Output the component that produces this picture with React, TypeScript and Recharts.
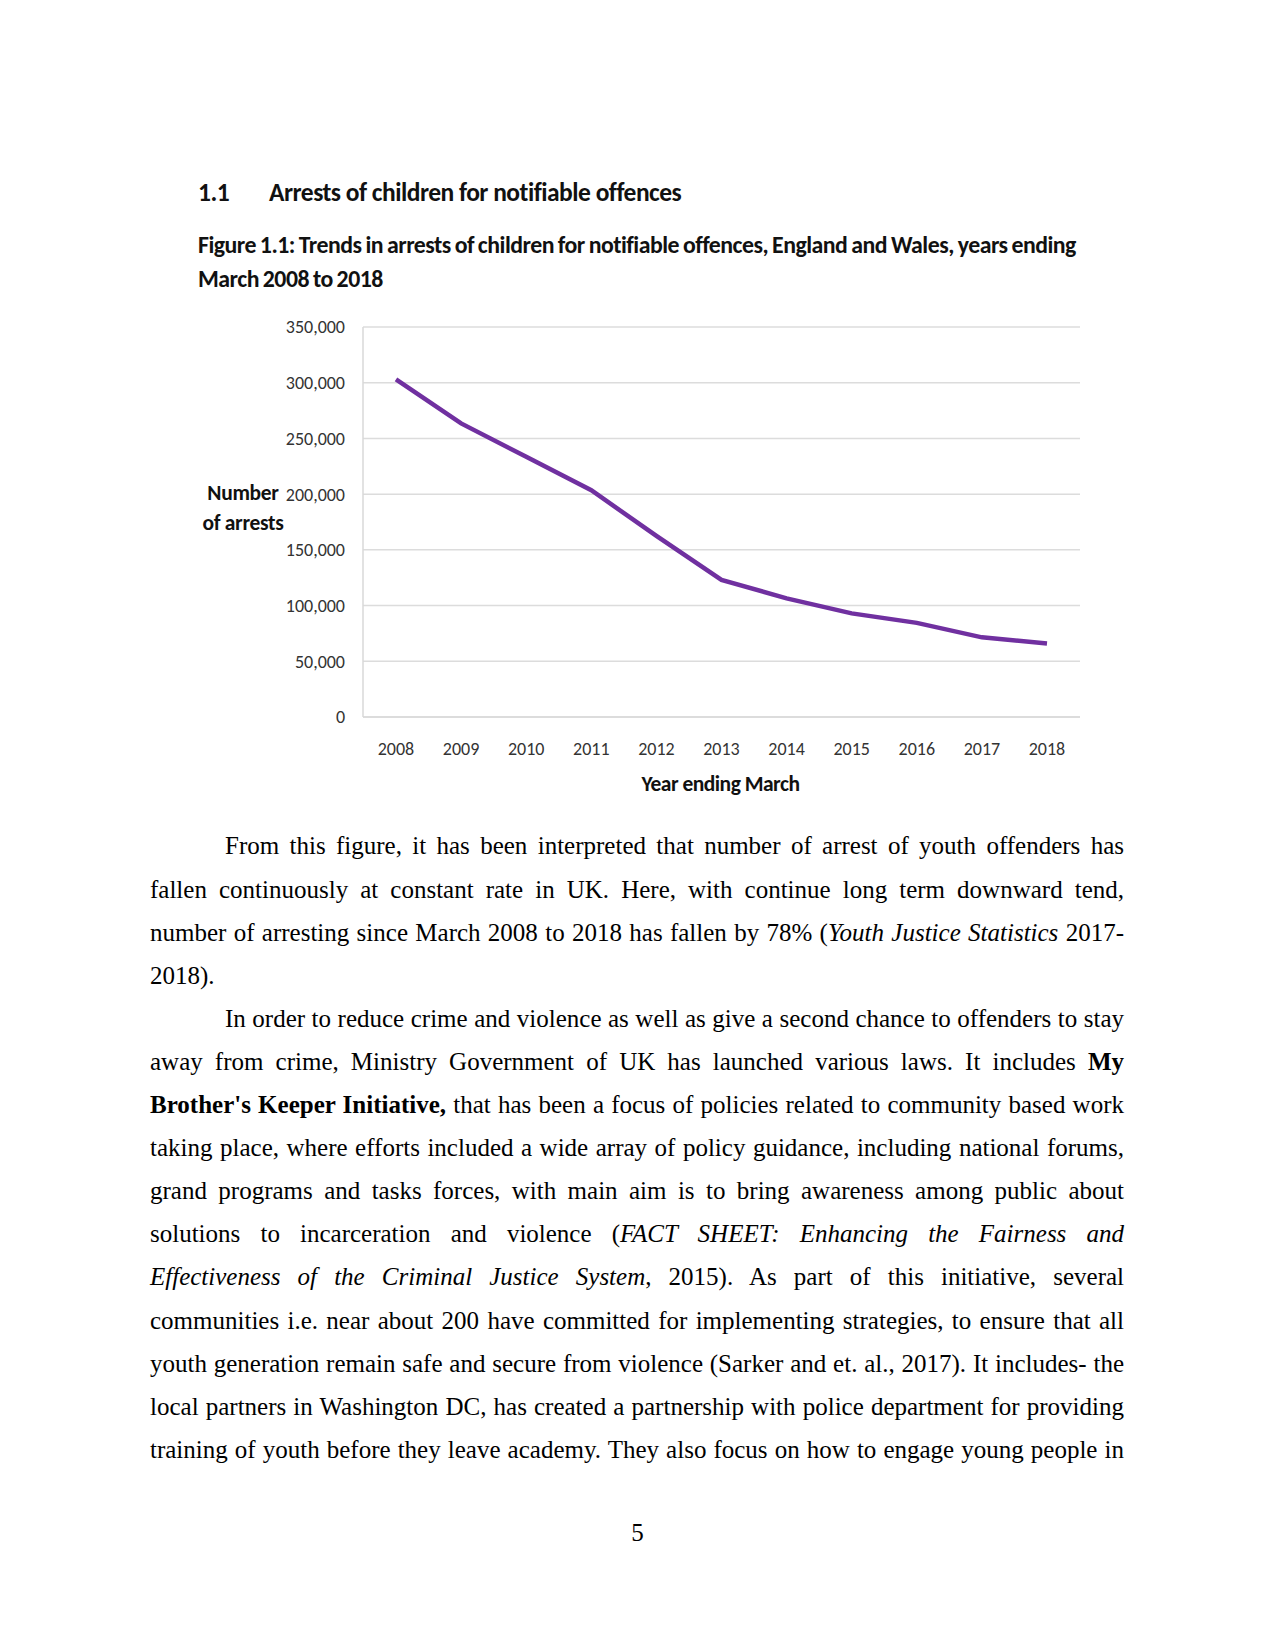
import React from 'react';
import { LineChart, Line, XAxis, YAxis, CartesianGrid } from 'recharts';

const years = ['2008', '2009', '2010', '2011', '2012', '2013', '2014', '2015', '2016', '2017', '2018'];
const arrests = [303000, 263500, 233500, 203500, 162500, 123000, 106500, 93000, 84500, 71500, 66000];
const yTicks = [0, 50000, 100000, 150000, 200000, 250000, 300000, 350000];

const data = years.map((y, i) => ({ year: y, arrests: arrests[i] }));

const sansFont = 'Carlito, Lato, "Liberation Sans", sans-serif';
const serifFont = '"Liberation Serif", "Times New Roman", serif';

type LineSpec = { parts: React.ReactNode; indent?: boolean; last?: boolean };

const bodyLines: LineSpec[] = [
  { indent: true, parts: 'From this figure, it has been interpreted that number of arrest of youth offenders has' },
  { parts: 'fallen continuously at constant rate in UK. Here, with continue long term downward tend,' },
  { parts: <>number of arresting since March 2008 to 2018 has fallen by 78% (<i>Youth Justice Statistics</i> 2017-</> },
  { last: true, parts: '2018).' },
  { indent: true, parts: 'In order to reduce crime and violence as well as give a second chance to offenders to stay' },
  { parts: <>away from crime, Ministry Government of UK has launched various laws. It includes <b>My</b></> },
  { parts: <><b>Brother's Keeper Initiative,</b> that has been a focus of policies related to community based work</> },
  { parts: 'taking place, where efforts included a wide array of policy guidance, including national forums,' },
  { parts: 'grand programs and tasks forces, with main aim is to bring awareness among public about' },
  { parts: <>solutions to incarceration and violence (<i>FACT SHEET: Enhancing the Fairness and</i></> },
  { parts: <><i>Effectiveness of the Criminal Justice System</i>, 2015). As part of this initiative, several</> },
  { parts: 'communities i.e. near about 200 have committed for implementing strategies, to ensure that all' },
  { parts: 'youth generation remain safe and secure from violence (Sarker and et. al., 2017). It includes- the' },
  { parts: 'local partners in Washington DC, has created a partnership with police department for providing' },
  { parts: 'training of youth before they leave academy. They also focus on how to engage young people in' },
];

const fmt = (v: number) => v.toLocaleString('en-US');

export default function App() {
  const lineH = 43.1;
  const firstTop = 846 - lineH / 2;
  return (
    <div style={{ position: 'absolute', left: 0, top: 0, width: 1275, height: 1650, background: '#fff', overflow: 'hidden' }}>
      {/* Headings */}
      <div style={{ position: 'absolute', left: 198, top: 178, fontFamily: sansFont, fontWeight: 700, fontSize: 25.5, color: '#111', whiteSpace: 'nowrap', lineHeight: '30px', letterSpacing: -0.5 }}>
        1.1
      </div>
      <div style={{ position: 'absolute', left: 269, top: 178, fontFamily: sansFont, fontWeight: 700, fontSize: 25.5, color: '#111', whiteSpace: 'nowrap', lineHeight: '30px', letterSpacing: -0.5 }}>
        Arrests of children for notifiable offences
      </div>
      <div style={{ position: 'absolute', left: 198, top: 228, fontFamily: sansFont, fontWeight: 700, fontSize: 23.8, color: '#111', whiteSpace: 'nowrap', lineHeight: '34px', letterSpacing: -0.5, wordSpacing: -1 }}>
        <div>Figure 1.1: Trends in arrests of children for notifiable offences, England and Wales, years ending</div>
        <div>March 2008 to 2018</div>
      </div>

      {/* Chart */}
      <div style={{ position: 'absolute', left: 180, top: 290, width: 920, height: 520 }}>
        <LineChart width={920} height={520} data={data} margin={{ top: 37, right: 20, left: 0, bottom: 0 }}>
          <CartesianGrid horizontal vertical={false} stroke="#dcdcdc" strokeWidth={1.5} />
          <XAxis
            dataKey="year"
            height={93}
            padding={{ left: 33, right: 33 }}
            tickLine={false}
            tickSize={0}
            tickMargin={25}
            axisLine={{ stroke: '#d9d9d9', strokeWidth: 1.5 }}
            tick={{ fontFamily: sansFont, fontSize: 18, fill: '#333' }}
            interval={0}
            label={(props: any) => {
              const vb = props.viewBox;
              return (
                <text x={vb.x + vb.width / 2 - 1} y={vb.y + 74} textAnchor="middle" fontFamily={sansFont} fontWeight={700} fontSize={21.5} fill="#111" letterSpacing={-0.5}>
                  Year ending March
                </text>
              );
            }}
          />
          <YAxis
            width={183}
            domain={[0, 350000]}
            ticks={yTicks}
            tickFormatter={fmt}
            tickLine={false}
            tickSize={0}
            tickMargin={18}
            axisLine={{ stroke: '#d9d9d9', strokeWidth: 1.5 }}
            tick={{ fontFamily: sansFont, fontSize: 18, fill: '#333' }}
            label={(props: any) => {
              const vb = props.viewBox;
              return (
                <g>
                  <text x={63} y={vb.y + 173} textAnchor="middle" fontFamily={sansFont} fontWeight={700} fontSize={21.5} fill="#111" letterSpacing={-0.3}>
                    Number
                  </text>
                  <text x={63} y={vb.y + 203} textAnchor="middle" fontFamily={sansFont} fontWeight={700} fontSize={21.5} fill="#111" letterSpacing={-0.3}>
                    of arrests
                  </text>
                </g>
              );
            }}
          />
          <Line type="linear" dataKey="arrests" stroke="#7030a0" strokeWidth={4.5} dot={false} isAnimationActive={false} />
        </LineChart>
      </div>

      {/* Body text */}
      {bodyLines.map((ln, i) => (
        <div
          key={i}
          style={{
            position: 'absolute',
            left: ln.indent ? 225 : 150,
            width: ln.indent ? 974 - 75 : 974,
            top: firstTop + i * lineH,
            height: lineH,
            lineHeight: `${lineH}px`,
            fontFamily: serifFont,
            fontSize: 25,
            color: '#000',
            whiteSpace: 'nowrap',
            textAlign: ln.last ? 'left' : 'justify',
            textAlignLast: ln.last ? 'left' : 'justify',
          }}
        >
          {ln.parts}
        </div>
      ))}

      {/* Page number */}
      <div style={{ position: 'absolute', left: 0, width: 1275, top: 1532 - 21, lineHeight: '43px', textAlign: 'center', fontFamily: serifFont, fontSize: 25, color: '#000' }}>
        5
      </div>
    </div>
  );
}
